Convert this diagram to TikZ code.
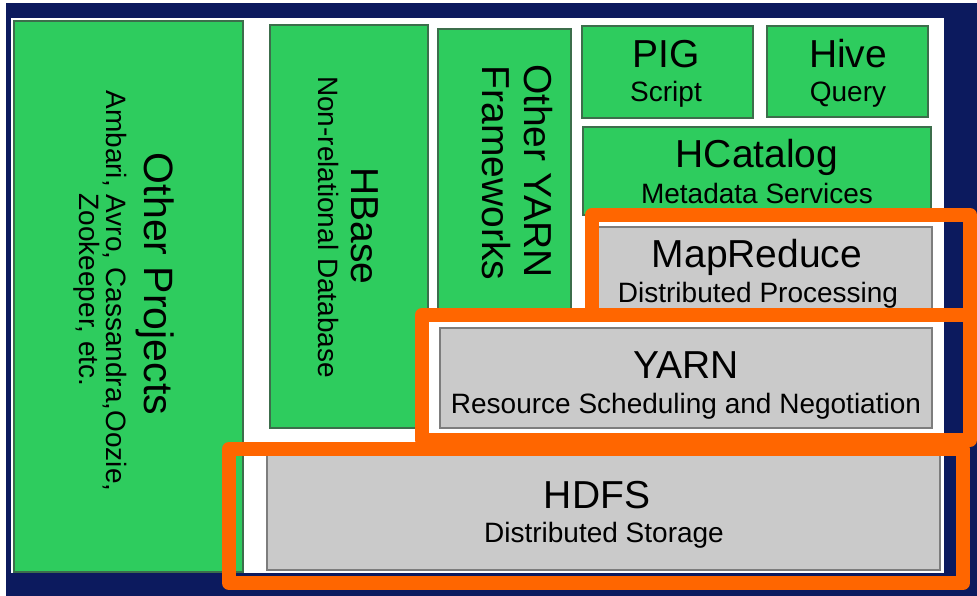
\documentclass[tikz,border=0pt]{standalone}
\usepackage{fontspec}
\setmainfont{Liberation Sans}
\usetikzlibrary{fit}
\definecolor{navybg}{RGB}{12,26,94}
\definecolor{hgreen}{RGB}{46,204,94}
\definecolor{hgreenedge}{RGB}{60,110,75}
\definecolor{hgray}{RGB}{202,202,202}
\definecolor{hgrayedge}{RGB}{125,125,125}
\definecolor{horange}{RGB}{255,102,0}
\begin{document}
\begin{tikzpicture}[x=1pt,y=-1pt,
  greenbox/.style={draw=hgreenedge, fill=hgreen, line width=1.2pt, inner sep=0pt},
  graybox/.style={draw=hgrayedge, fill=hgray, line width=1.2pt, inner sep=0pt},
  orframe/.style={draw=horange, line width=14pt, line join=round, inner sep=0pt},
  ttl/.style={font=\fontsize{39}{39}\selectfont, inner sep=0pt, anchor=base},
  sub/.style={font=\fontsize{28}{28}\selectfont, inner sep=0pt, anchor=base},
]
\useasboundingbox (0,0) rectangle (977,596);
\fill[white] (0,0) rectangle (977,596);
\fill[navybg] (6,3) rectangle (977,596);
\node[fill=white, inner sep=0pt, fit={(11,18) (944,573)}] (panel) {};
% green boxes
\node[greenbox, fit={(14,21) (243,572)}] (op) {};
\node[greenbox, fit={(270,25) (428,428)}] (hbase) {};
\node[greenbox, fit={(438,29) (571,310)}] (oyarn) {};
\node[greenbox, fit={(582,26) (753,118)}] (pig) {};
\node[greenbox, fit={(767,26) (928,117)}] (hive) {};
\node[greenbox, fit={(583,127) (931,215)}] (hcat) {};
% gray boxes
\node[graybox, fit={(597,227) (932,310)}] (mr) {};
\node[graybox, fit={(440,328) (932,428)}] (yarn) {};
\node[graybox, fit={(267,455) (940,570)}] (hdfs) {};
% orange frames
\node[orframe, fit={(592,215) (970,315)}] (mrframe) {};
\node[orframe, fit={(422,315) (970,440)}] (yarnframe) {};
\node[orframe, fit={(229,449) (963,583)}] (hdfsframe) {};
% texts
\node[ttl, font=\fontsize{41}{41}\selectfont, rotate=-90] (tOP) at (144,284) {Other Projects};
\node[sub, rotate=-90] (tOP1) at (106,291) {Ambari, Avro, Cassandra,Oozie,};
\node[sub, rotate=-90] (tOP2) at (79,290) {Zookeeper, etc.};
\node[ttl, rotate=-90] (tHB) at (351,226) {HBase};
\node[sub, rotate=-90] (tHB1) at (318,227) {Non-relational Database};
\node[ttl, rotate=-90] (tOY1) at (524,171) {Other YARN};
\node[ttl, rotate=-90] (tOY2) at (482,173) {Frameworks};
\node[ttl] (tPIG) at (666,68) {PIG};
\node[sub] (tPIG1) at (666,102) {Script};
\node[ttl] (tHive) at (848,68) {Hive};
\node[sub] (tHive1) at (848,102) {Query};
\node[ttl] (tHC) at (757,168) {HCatalog};
\node[sub] (tHC1) at (757,204) {Metadata Services};
\node[ttl] (tMR) at (757,267) {MapReduce};
\node[sub] (tMR1) at (758,302) {Distributed Processing};
\node[ttl] (tY) at (686,378) {YARN};
\node[sub] (tY1) at (686,413) {Resource Scheduling and Negotiation};
\node[ttl] (tH) at (597,508) {HDFS};
\node[sub] (tH1) at (604,542) {Distributed Storage};
\end{tikzpicture}
\end{document}
